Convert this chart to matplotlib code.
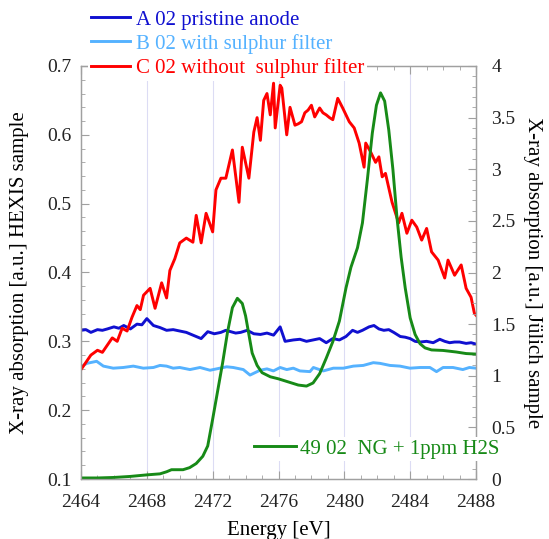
import matplotlib
matplotlib.use("Agg")
import matplotlib.pyplot as plt
from matplotlib.lines import Line2D
from matplotlib.ticker import MultipleLocator

plt.rcParams['font.family'] = ['Liberation Serif', 'DejaVu Serif']

# A 02 pristine anode (left axis)
energy_a = [2464.0, 2464.3, 2464.6, 2465.0, 2465.3, 2465.6, 2466.0, 2466.3, 2466.6, 2467.0,
            2467.4, 2467.7, 2468.0, 2468.4, 2468.8, 2469.2, 2469.6, 2470.0, 2470.4, 2470.8,
            2471.3, 2471.7, 2472.1, 2472.5, 2472.8, 2473.1, 2473.4, 2473.7, 2474.1, 2474.5,
            2474.9, 2475.3, 2475.7, 2476.1, 2476.4, 2476.9, 2477.3, 2477.7, 2478.1, 2478.5,
            2478.9, 2479.3, 2479.7, 2480.1, 2480.5, 2480.8, 2481.1, 2481.5, 2481.8, 2482.1,
            2482.4, 2482.7, 2483.0, 2483.4, 2483.7, 2484.0, 2484.3, 2484.6, 2485.0, 2485.4,
            2485.8, 2486.1, 2486.4, 2486.7, 2487.0, 2487.4, 2487.7, 2488.0]
sample_a = [0.316, 0.317, 0.313, 0.317, 0.316, 0.318, 0.321, 0.319, 0.323, 0.318,
            0.325, 0.324, 0.333, 0.323, 0.320, 0.316, 0.317, 0.315, 0.313, 0.309,
            0.304, 0.314, 0.311, 0.313, 0.316, 0.314, 0.312, 0.313, 0.316, 0.311,
            0.310, 0.312, 0.309, 0.321, 0.300, 0.302, 0.303, 0.300, 0.302, 0.304,
            0.298, 0.304, 0.302, 0.307, 0.316, 0.313, 0.316, 0.321, 0.323, 0.318,
            0.316, 0.317, 0.313, 0.307, 0.306, 0.304, 0.300, 0.299, 0.300, 0.298,
            0.303, 0.300, 0.298, 0.299, 0.299, 0.297, 0.298, 0.296]

# B 02 with sulphur filter (left axis)
energy_b = [2464.0, 2464.35, 2464.95, 2465.36, 2465.96, 2466.57, 2467.18, 2467.79, 2468.4, 2468.8,
            2469.2, 2469.6, 2470.0, 2470.62, 2471.23, 2471.84, 2472.44, 2472.85, 2473.25, 2473.86,
            2474.27, 2474.88, 2475.3, 2475.69, 2476.1, 2476.5, 2476.9, 2477.3, 2477.91, 2478.12,
            2478.72, 2479.33, 2479.94, 2480.55, 2481.15, 2481.76, 2482.17, 2482.77, 2483.38, 2483.99,
            2484.6, 2485.2, 2485.6, 2486.0, 2486.6, 2487.2, 2487.6, 2488.0]
sample_b = [0.263, 0.268, 0.271, 0.264, 0.261, 0.262, 0.264, 0.261, 0.262, 0.265,
            0.264, 0.261, 0.262, 0.259, 0.262, 0.258, 0.261, 0.263, 0.262, 0.259,
            0.251, 0.258, 0.260, 0.257, 0.262, 0.259, 0.261, 0.257, 0.256, 0.262,
            0.257, 0.261, 0.261, 0.264, 0.265, 0.269, 0.268, 0.265, 0.264, 0.261,
            0.262, 0.262, 0.256, 0.262, 0.262, 0.259, 0.262, 0.261]

# C 02 without sulphur filter (left axis)
energy_c = [2464.0, 2464.6, 2465.0, 2465.3, 2465.9, 2466.2, 2466.5, 2466.8, 2467.1, 2467.4,
            2467.6, 2467.8, 2468.2, 2468.5, 2468.9, 2469.2, 2469.4, 2469.7, 2470.0, 2470.4,
            2470.8, 2471.0, 2471.3, 2471.6, 2472.0, 2472.2, 2472.5, 2472.8, 2473.2, 2473.6,
            2473.8, 2474.2, 2474.5, 2474.7, 2474.9, 2475.1, 2475.3, 2475.5, 2475.7, 2475.8,
            2476.1, 2476.2, 2476.5, 2476.7, 2477.0, 2477.2, 2477.4, 2477.6, 2477.8, 2478.0,
            2478.2, 2478.5, 2478.7, 2478.9, 2479.1, 2479.3, 2479.6, 2479.9, 2480.3, 2480.6,
            2480.9, 2481.2, 2481.3, 2481.6, 2481.9, 2482.1, 2482.3, 2482.5, 2482.9, 2483.3,
            2483.5, 2483.8, 2484.1, 2484.4, 2484.7, 2485.0, 2485.3, 2485.7, 2486.1, 2486.3,
            2486.7, 2487.1, 2487.4, 2487.7, 2487.9, 2488.0]
sample_c = [0.259, 0.280, 0.287, 0.284, 0.305, 0.300, 0.319, 0.315, 0.335, 0.352,
            0.346, 0.367, 0.377, 0.348, 0.385, 0.363, 0.403, 0.420, 0.443, 0.450,
            0.444, 0.483, 0.443, 0.486, 0.459, 0.520, 0.537, 0.537, 0.578, 0.502,
            0.582, 0.537, 0.604, 0.625, 0.592, 0.650, 0.660, 0.629, 0.675, 0.610,
            0.672, 0.668, 0.600, 0.640, 0.614, 0.616, 0.619, 0.632, 0.636, 0.643,
            0.626, 0.639, 0.632, 0.629, 0.625, 0.622, 0.653, 0.639, 0.619, 0.610,
            0.588, 0.553, 0.588, 0.575, 0.560, 0.568, 0.539, 0.544, 0.502, 0.472,
            0.486, 0.457, 0.476, 0.466, 0.447, 0.464, 0.430, 0.418, 0.392, 0.418,
            0.396, 0.411, 0.377, 0.364, 0.341, 0.338]

# 49 02 NG + 1ppm H2S (right axis)
energy_ng = [2464.0, 2465.0, 2466.0, 2467.0, 2468.0, 2468.8, 2469.2, 2469.5, 2470.2, 2470.6,
             2471.0, 2471.4, 2471.7, 2472.0, 2472.3, 2472.6, 2472.9, 2473.2, 2473.5, 2473.8,
             2474.0, 2474.2, 2474.4, 2474.7, 2475.0, 2475.5, 2476.0, 2476.6, 2477.2, 2477.7,
             2478.1, 2478.5, 2478.9, 2479.3, 2479.7, 2480.1, 2480.4, 2480.8, 2481.1, 2481.4,
             2481.7, 2481.95, 2482.2, 2482.45, 2482.7, 2482.95, 2483.2, 2483.45, 2483.7, 2484.0,
             2484.3, 2484.6, 2484.9, 2485.3, 2486.0, 2486.8, 2487.4, 2488.0]
sample_ng = [0.01, 0.01, 0.015, 0.025, 0.04, 0.05, 0.07, 0.09, 0.09, 0.11,
             0.15, 0.22, 0.32, 0.58, 0.85, 1.12, 1.42, 1.66, 1.75, 1.70,
             1.58, 1.40, 1.22, 1.10, 1.03, 0.99, 0.97, 0.94, 0.91, 0.90,
             0.93, 1.02, 1.17, 1.33, 1.53, 1.85, 2.05, 2.24, 2.48, 2.90,
             3.35, 3.62, 3.74, 3.66, 3.38, 3.00, 2.53, 2.15, 1.85, 1.56,
             1.40, 1.31, 1.27, 1.25, 1.245, 1.23, 1.215, 1.21]

labels = ['A 02 pristine anode', 'B 02 with sulphur filter', 'C 02 without  sulphur filter',
          '49 02  NG + 1ppm H2S']
colors = ['#1010d0', '#55b2ff', '#ff0000', '#178a17']

fig = plt.figure(figsize=(5.49, 5.39), dpi=100)
ax = fig.add_axes([81 / 549, 1 - 479 / 539, 395 / 549, 413 / 539])
ax2 = ax.twinx()

lw = 2.1
ax.plot(energy_a, sample_a, color=colors[0], lw=lw)
ax.plot(energy_b, sample_b, color=colors[1], lw=lw)
ax.plot(energy_c, sample_c, color=colors[2], lw=lw)
ax2.plot(energy_ng, sample_ng, color=colors[3], lw=lw)

ax.set_xlim(2464, 2488)
ax.set_ylim(0.1, 0.7)
ax2.set_ylim(0, 4)

ax.set_xticks([2464, 2468, 2472, 2476, 2480, 2484, 2488])
ax.xaxis.set_minor_locator(MultipleLocator(1))
ax.yaxis.set_major_locator(MultipleLocator(0.1))
ax.yaxis.set_minor_locator(MultipleLocator(0.02))
ax2.set_yticks([0, 0.5, 1, 1.5, 2, 2.5, 3, 3.5, 4])
ax2.set_yticklabels(['0', '0.5', '1', '1.5', '2', '2.5', '3', '3.5', '4'])
ax2.yaxis.set_minor_locator(MultipleLocator(0.1))

for x in [2468, 2472, 2476, 2480, 2484]:
    ax.axvline(x, color='#dcdcf4', lw=0.8, zorder=0)

spine_col = '#a0a0a0'
for a in (ax, ax2):
    for s in a.spines.values():
        s.set_color(spine_col)
        s.set_linewidth(0.9)
ax.tick_params(which='both', direction='in', color=spine_col, top=True, right=False,
               labelsize=14, labelcolor='#222222')
ax.tick_params(which='major', length=6, pad=7)
ax.tick_params(which='minor', length=3)
ax.tick_params(axis='x', which='major', pad=11)
ax2.tick_params(which='both', direction='in', color=spine_col, labelsize=14,
                labelcolor='#222222')
ax2.tick_params(which='major', length=6, pad=11)
ax2.tick_params(which='minor', length=3)

ax.set_xlabel('Energy [eV]', fontsize=15, labelpad=7)
ax.set_ylabel('X-ray absorption [a.u.] HEXIS sample', fontsize=15, labelpad=13)
ax2.set_ylabel('X-ray absorption [a.u.] Jülich sample', fontsize=15, rotation=270,
               labelpad=19)

handles = [Line2D([], [], color=c, lw=lw) for c in colors]
fig.legend(handles[:3], labels[:3], loc='upper left', bbox_to_anchor=(88 / 549, 1 - 7 / 539),
           fontsize=15, labelcolor='linecolor', frameon=True, facecolor='white',
           edgecolor='none', framealpha=1, fancybox=False, borderpad=0.15,
           labelspacing=0.2, handlelength=1.85, handletextpad=0.3, borderaxespad=0)
ax2.legend(handles[3:], labels[3:], loc='center left',
           bbox_to_anchor=((252 - 81) / 395, (479 - 449) / 413),
           fontsize=15, labelcolor='linecolor', frameon=True, facecolor='white',
           edgecolor='none', framealpha=1, fancybox=False, borderpad=0.1,
           handlelength=2.0, handletextpad=0.2, borderaxespad=0)

fig.savefig('out.png', dpi=100)
